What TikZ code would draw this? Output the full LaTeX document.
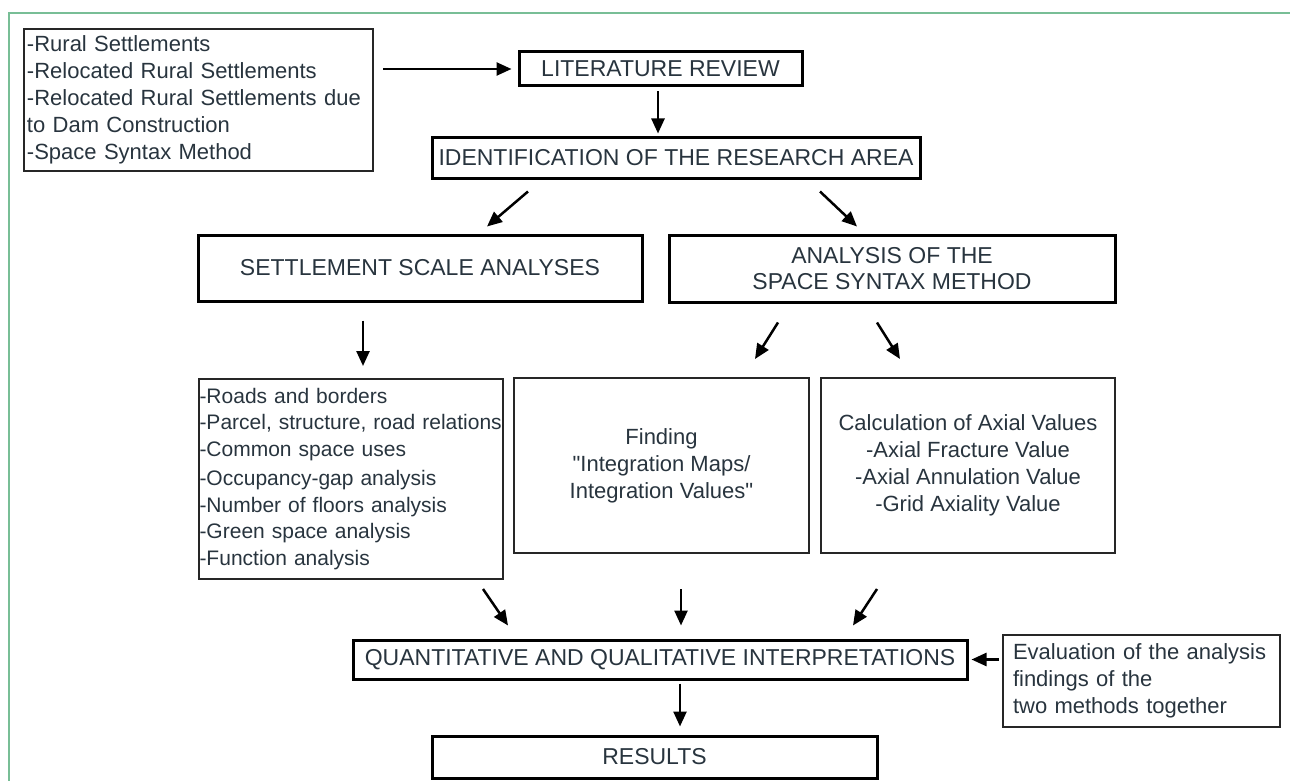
\documentclass[tikz,border=0pt]{standalone}
\usepackage{fontspec}
\setmainfont{Liberation Sans}[Ligatures=TeXOff]
\usetikzlibrary{arrows.meta,positioning,calc}

\definecolor{ink}{RGB}{40,52,62}
\definecolor{frame}{RGB}{120,190,150}

\tikzset{
  bigbox/.style={draw=black, line width=3pt, text=ink, inner sep=0pt,
    font=\fontsize{23}{26}\selectfont, align=center},
  thinbox/.style={draw=black!85, line width=2pt, text=ink, inner sep=0pt,
    font=\fontsize{22}{27}\selectfont},
  arr/.style={-{Triangle[length=15pt,width=13pt]}, line width=2.5pt, black}
}

\begin{document}
\begin{tikzpicture}[x=1pt, y=-1pt]

\useasboundingbox (0,0) rectangle (1290,781);

% green frame of the figure
\draw[frame, line width=2pt] (9,790) -- (9,13) -- (1295,13);

% ================= TOP =================
\node[thinbox, text width=343pt, inner xsep=3pt, minimum height=142pt, align=left]
  (src) at (198.5,100)
  {-Rural Settlements\\
   -Relocated Rural Settlements\\
   -Relocated Rural Settlements due\\
   to Dam Construction\\
   -Space Syntax Method};

\node[bigbox, minimum width=283pt, minimum height=34pt] (litrev) at (660.5,69)
  {LITERATURE REVIEW};

\node[bigbox, minimum width=488pt, minimum height=40pt] (ident) at (676,158)
  {IDENTIFICATION OF THE RESEARCH AREA};

% ================= MIDDLE =================
\node[bigbox, minimum width=444pt, minimum height=66pt] (ssa) at (420,268)
  {SETTLEMENT SCALE ANALYSES};

\node[bigbox, minimum width=446pt, minimum height=67pt] (assm) at (892,268.5)
  {ANALYSIS OF THE\\SPACE SYNTAX METHOD};

\node[thinbox, text width=302pt, inner xsep=1pt, minimum height=200pt, align=left,
  font=\fontsize{21}{26.5}\selectfont]
  (lst) at (350.5,479)
  {\mbox{-Roads and borders}\\
   \mbox{-Parcel, structure, road relations}\\
   \mbox{-Common space uses}\\[3pt]
   \mbox{-Occupancy-gap analysis}\\
   \mbox{-Number of floors analysis}\\
   \mbox{-Green space analysis}\\
   \mbox{-Function analysis}};

\node[thinbox, minimum width=295pt, minimum height=175pt, align=center]
  (find) at (661.5,465.5)
  {Finding\\"Integration Maps/\\Integration Values"};

\node[thinbox, minimum width=294pt, minimum height=175pt, align=center]
  (calc) at (968,465.5)
  {Calculation of Axial Values\\-Axial Fracture Value\\-Axial Annulation Value\\-Grid Axiality Value};

% ================= BOTTOM =================
\node[bigbox, minimum width=614pt, minimum height=39pt] (qq) at (660,659.5)
  {QUANTITATIVE AND QUALITATIVE INTERPRETATIONS};

\node[thinbox, text width=257pt, inner xsep=10pt, minimum height=92pt, align=left]
  (eval) at (1141.5,681)
  {Evaluation of the analysis\\findings of the\\two methods together};

\node[bigbox, minimum width=445pt, minimum height=42pt] (res) at (654.5,757)
  {RESULTS};

% ================= ARROWS =================
\draw[arr, shorten <=9pt, shorten >=6pt] (src.east |- litrev.west) -- (litrev.west);
\draw[arr] ($(litrev.south)+(-2.5,4)$) -- ($(ident.north)+(-18,-3)$);

\draw[arr] ($(ident.south)+(-148,12)$) -- ($(ssa.north)+(67,-7)$);
\draw[arr] ($(ident.south)+(144,12)$) -- ($(assm.north)+(-35,-7)$);

\draw[arr] ($(ssa.south)+(-57,18)$) -- ($(lst.north)+(12.5,-12)$);
\draw[arr] ($(assm.south)+(-114,19)$) -- ($(find.north)+(93.5,-18)$);
\draw[arr] ($(assm.south)+(-15,19)$) -- ($(calc.north)+(-68,-18)$);

\draw[arr] ($(lst.south)+(132.5,9)$) -- ($(qq.north)+(-152,-13)$);
\draw[arr] ($(find.south)+(19.5,35)$) -- ($(qq.north)+(21,-13)$);
\draw[arr] ($(calc.south)+(-91,35)$) -- ($(qq.north)+(193,-13)$);

\draw[arr] ($(qq.south)+(20,3)$) -- ($(res.north)+(25.5,-8)$);
\draw[arr, shorten <=3pt, shorten >=3pt] (eval.west |- qq.east) -- (qq.east);

\end{tikzpicture}
\end{document}
